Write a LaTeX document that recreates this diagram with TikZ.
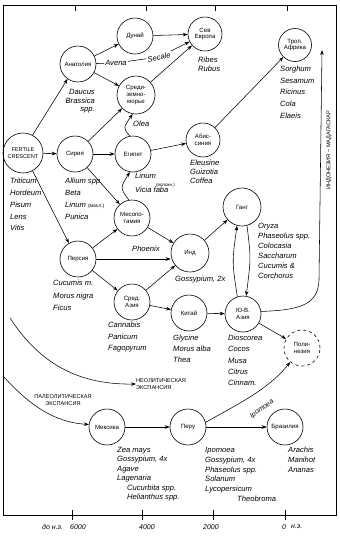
\documentclass[tikz,border=0pt]{standalone}
\usepackage{fontspec}
\setmainfont{Liberation Sans}
\usetikzlibrary{arrows.meta}
\begin{document}
\begin{tikzpicture}[x=1pt,y=-1pt,
 nd/.style={circle,draw,line width=0.6pt,minimum size=36pt,inner sep=0pt,align=center,font=\fontsize{6.1}{6.9}\selectfont},
 sp/.style={inner sep=0pt,align=left,anchor=north west,font=\fontsize{7.6}{10}\selectfont\itshape},
 arr/.style={-{Stealth[length=5pt,width=3.6pt]},line width=0.55pt},
 ln/.style={line width=0.55pt},
 lbl/.style={font=\fontsize{5.6}{6.8}\selectfont,inner sep=0pt,align=left},
 scl/.style={font=\fontsize{7}{8}\selectfont\itshape,inner sep=0pt},
]
\useasboundingbox (0,0) rectangle (340,539);
% frame
\draw[line width=0.7pt] (3,5) rectangle (336,515);
\foreach \t in {75,146,215,287} \draw[line width=0.7pt] (\t,5) -- (\t,11);
\foreach \t in {72,142,213,285} \draw[line width=0.7pt] (\t,510) -- (\t,520);
\node[scl,anchor=west] (bc) at (42,527) {до н.э.};
\node[scl] (s6) at (78,527) {6000};
\node[scl] (s4) at (147,527) {4000};
\node[scl] (s2) at (211,527) {2000};
\node[scl] (s0) at (284,527) {0};
\node[scl,anchor=west] (ad) at (291,527) {н.э.};

% nodes
\node[nd] (anat) at (78,64) {Анатолия};
\node[nd] (dunai) at (135,36) {Дунай};
\node[nd,minimum size=38pt] (med) at (136,95) {Среди-\\земно-\\морье};
\node[nd,minimum size=34pt] (sev) at (205,34) {Сев\\Европа};
\node[nd,minimum size=33pt] (trop) at (295,45) {Троп.\\Африка};
\node[nd,minimum size=40pt,font=\fontsize{5.6}{6.6}\selectfont] (fc) at (23,153) {FERTILE\\CRESCENT};
\node[nd] (syr) at (75,154) {Сирия};
\node[nd] (egy) at (133,154) {Египет};
\node[nd,minimum size=34pt] (abys) at (203,140) {Абис-\\синия};
\node[nd] (meso) at (132,218) {Месопо-\\тамия};
\node[nd] (pers) at (78,259) {Персия};
\node[nd,minimum size=38pt] (ind) at (190,253) {Инд};
\node[nd,minimum size=38pt] (gang) at (242,207) {Ганг};
\node[nd] (casia) at (132,302) {Сред.\\Азия};
\node[nd] (china) at (189,313) {Китай};
\node[nd] (sea) at (243,314) {Ю-В.\\Азия};
\node[nd,dashed] (poly) at (302,348) {Поли-\\незия};
\node[nd] (mex) at (107,427) {Мексика};
\node[nd] (peru) at (188,427) {Перу};
\node[nd] (braz) at (285,427) {Бразилия};

% species
\node[sp,align=right,anchor=north east,font=\fontsize{7.6}{8.6}\selectfont\itshape] (l-anat) at (95,89) {Daucus\\Brassica\\spp.};
\node[sp,font=\fontsize{7.6}{8.6}\selectfont\itshape] (l-sev) at (198,57) {Ribes\\Rubus};
\node[sp,font=\fontsize{7.6}{11.6}\selectfont\itshape] (l-trop) at (280,66) {Sorghum\\Sesamum\\Ricinus\\Cola\\Elaeis};
\node[sp] (olea) at (133,121) {Olea};
\node[sp,font=\fontsize{7.6}{11.8}\selectfont\itshape] (l-fc) at (10,178) {Triticum\\Hordeum\\Pisum\\Lens\\Vitis};
\node[sp,font=\fontsize{7.6}{12}\selectfont\itshape] (l-syr) at (65,178) {Allium spp.\\Beta\\Linum {\fontsize{5}{6}\selectfont\upshape(масл.)}\\Punica};
\node[sp] (l-egy1) at (135,173) {Linum};
\node[lbl,anchor=north west,font=\fontsize{4.5}{5}\selectfont] (l-egy2) at (156,183) {(волокн.)};
\node[sp] (l-egy3) at (135,187) {Vicia faba};
\node[sp,font=\fontsize{7.6}{8.7}\selectfont\itshape] (l-abys) at (190,160) {Eleusine\\Guizotia\\Coffea};
\node[sp,font=\fontsize{7.6}{12.4}\selectfont\itshape] (l-pers) at (53,280) {Cucumis m.\\Morus nigra\\Ficus};
\node[sp,font=\fontsize{7.6}{11.6}\selectfont\itshape] (l-casia) at (108,322) {Cannabis\\Panicum\\Fagopyrum};
\node[sp] (l-ind) at (175,276) {Gossypium, 2x};
\node[sp,font=\fontsize{7.6}{10}\selectfont\itshape] (l-gang) at (258,223) {Oryza\\Phaseolus spp.\\Colocasia\\Saccharum\\Cucumis \&\\Corchorus};
\node[sp,font=\fontsize{7.6}{11}\selectfont\itshape] (l-china) at (173,335) {Glycine\\Morus alba\\Thea};
\node[sp,font=\fontsize{7.6}{11.2}\selectfont\itshape] (l-sea) at (228,335) {Dioscorea\\Cocos\\Musa\\Citrus\\Cinnam.};
\node[sp,font=\fontsize{7.6}{9.4}\selectfont\itshape] (l-mex) at (117,447) {Zea mays\\Gossypium, 4x\\Agave\\Lagenaria\\\hspace*{10pt}Cucurbita spp.\\\hspace*{10pt}Helianthus spp.};
\node[sp,font=\fontsize{7.6}{9.8}\selectfont\itshape] (l-peru) at (205,447) {Ipomoea\\Gossypium, 4x\\Phaseolus spp.\\Solanum\\Lycopersicum\\\hspace*{32pt}Theobroma};
\node[sp,font=\fontsize{7.6}{10}\selectfont\itshape] (l-braz) at (288,447) {Arachis\\Manihot\\Ananas};

% Avena / Secale
\node[sp,anchor=center,inner sep=1pt] (avena) at (116,63) {Avena};
\node[sp,anchor=center,inner sep=1pt,rotate=12] (secale) at (159,57) {Secale};
\draw[ln] (anat) -- (avena);
\draw[ln] (avena) -- (secale);
\draw[arr] (secale) -- (sev);

% connectors
\draw[arr] (fc) -- (syr);
\draw[arr] (syr) -- (egy);
\draw[arr] (fc.62) -- (anat.235);
\draw[arr] (anat) -- (dunai);
\draw[arr] (anat) -- (med);
\draw[arr] (dunai) -- (sev);
\draw[arr] (med) -- (sev);
\draw[arr] (syr) -- (med);
\draw[arr] (egy.100) .. controls (123,128) .. (med.-100);
\draw[arr] (egy) -- (abys);
\draw[arr] (abys) -- (trop);
\draw[arr] (syr) -- (meso);
\draw[arr] (meso.100) .. controls (120,188) .. (egy.-100);
\draw[arr] (fc.-62) -- (pers.120);
\draw[arr] (pers) -- (meso);
\draw[arr] (meso) -- (ind);
\draw[arr] (pers.east) -- (pers.east -| ind.west);
\node[sp] (phoenix) at (132,246) {Phoenix};
\draw[arr] (pers) -- (casia);
\draw[arr] (casia) -- (ind);
\draw[arr] (casia) -- (china);
\draw[arr] (china) -- (sea);
\draw[arr] (ind) -- (gang);
\draw[arr] (sea.108) .. controls (232,262) .. (gang.-105);
\draw[arr] (gang.-75) .. controls (251,258) .. (sea.80);
\coordinate (tropin) at (322,50);
\draw[arr] (sea.8) .. controls (300,310) and (318,305) .. (319,280) -- (tropin);
\node[lbl,rotate=90,anchor=center] (indmad) at (329,150) {ИНДОНЕЗИЯ -- МАДАГАСКАР};
\draw[arr] (sea) -- (poly);
\draw[arr] (mex) -- (peru);
\draw[arr] (peru) -- (braz);
\draw[arr] (peru.15) .. controls (236,405) and (268,390) .. (poly.-130);
\node[sp,anchor=center,rotate=35,font=\fontsize{7}{8}\selectfont\itshape] (ipo) at (262,409) {Ipomoea};

% expansions
\coordinate (neos) at (10,318);
\node[lbl,anchor=west] (neo) at (136,384) {НЕОЛИТИЧЕСКАЯ\\ЭКСПАНСИЯ};
\draw[arr] (neos) .. controls (35,356) and (70,385) .. (neo.west);
\coordinate (paleos) at (3,376);
\node[lbl,align=center] (paleo) at (63,400) {ПАЛЕОЛИТИЧЕСКАЯ\\ЭКСПАНСИЯ};
\draw[arr] (paleos) .. controls (25,400) and (50,422) .. (mex.172);
\end{tikzpicture}
\end{document}
